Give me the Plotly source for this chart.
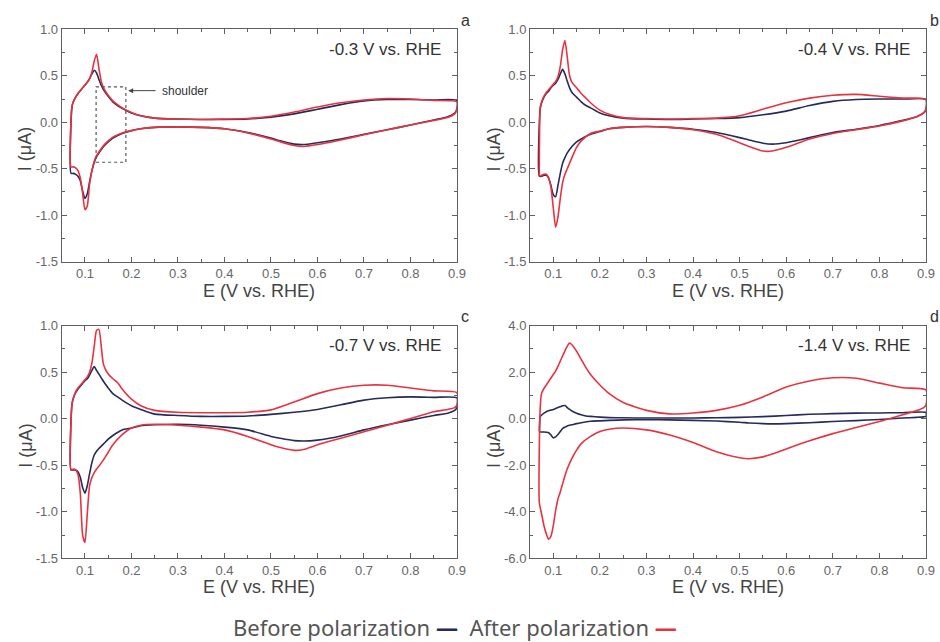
import plotly.graph_objects as go

# ---------------- data ----------------
E_fwd = [0.07, 0.072, 0.075, 0.08, 0.085, 0.09, 0.095, 0.10, 0.105, 0.11, 0.115, 0.12, 0.125, 0.13,
         0.135, 0.14, 0.15, 0.16, 0.17, 0.18, 0.20, 0.22, 0.25, 0.30, 0.35, 0.40, 0.45, 0.50, 0.55,
         0.60, 0.65, 0.70, 0.75, 0.80, 0.85, 0.90]
E_rev = [0.90, 0.895, 0.88, 0.85, 0.80, 0.75, 0.70, 0.65, 0.60, 0.57, 0.55, 0.52, 0.50, 0.45, 0.40,
         0.35, 0.30, 0.25, 0.22, 0.20, 0.18, 0.16, 0.15, 0.14, 0.13, 0.125, 0.12, 0.115, 0.11, 0.105,
         0.10, 0.095, 0.09, 0.085, 0.08, 0.075, 0.07]

# panel a (-0.3 V)
a_before_fwd = [-0.55, 0.16, 0.22, 0.27, 0.31, 0.34, 0.37, 0.40, 0.43, 0.47, 0.52, 0.56, 0.53, 0.46, 0.40,
                0.35, 0.28, 0.22, 0.18, 0.15, 0.10, 0.07, 0.045, 0.035, 0.03, 0.03, 0.035, 0.055, 0.09,
                0.14, 0.19, 0.23, 0.245, 0.245, 0.24, 0.235]
a_after_fwd = [-0.48, 0.17, 0.22, 0.27, 0.31, 0.34, 0.37, 0.40, 0.43, 0.47, 0.54, 0.66, 0.73, 0.58, 0.44,
               0.37, 0.29, 0.23, 0.19, 0.155, 0.105, 0.07, 0.045, 0.035, 0.03, 0.035, 0.04, 0.065, 0.11,
               0.165, 0.21, 0.24, 0.255, 0.25, 0.235, 0.22]
a_before_rev = [0.15, 0.10, 0.06, 0.025, -0.03, -0.08, -0.13, -0.18, -0.22, -0.24, -0.235, -0.20, -0.17,
                -0.11, -0.07, -0.055, -0.05, -0.055, -0.07, -0.09, -0.12, -0.17, -0.21, -0.26, -0.33,
                -0.37, -0.43, -0.52, -0.64, -0.77, -0.82, -0.74, -0.63, -0.58, -0.56, -0.55, -0.55]
a_after_rev = [0.14, 0.09, 0.05, 0.02, -0.03, -0.08, -0.135, -0.19, -0.24, -0.26, -0.25, -0.21, -0.18,
               -0.115, -0.07, -0.055, -0.05, -0.055, -0.07, -0.09, -0.115, -0.16, -0.20, -0.25, -0.32,
               -0.36, -0.42, -0.52, -0.66, -0.90, -0.94, -0.76, -0.60, -0.52, -0.49, -0.48, -0.48]

# panel b (-0.4 V)
b_before_fwd = [-0.58, 0.15, 0.21, 0.27, 0.31, 0.335, 0.37, 0.40, 0.42, 0.46, 0.52, 0.57, 0.52, 0.44, 0.37,
                0.32, 0.27, 0.22, 0.18, 0.155, 0.10, 0.07, 0.045, 0.035, 0.03, 0.035, 0.04, 0.05, 0.08,
                0.12, 0.18, 0.225, 0.245, 0.25, 0.25, 0.245]
b_after_fwd = [-0.57, 0.16, 0.22, 0.28, 0.32, 0.35, 0.38, 0.41, 0.44, 0.49, 0.60, 0.78, 0.88, 0.70, 0.50,
               0.43, 0.37, 0.31, 0.26, 0.21, 0.13, 0.085, 0.05, 0.04, 0.035, 0.04, 0.045, 0.07, 0.14,
               0.21, 0.26, 0.29, 0.30, 0.28, 0.26, 0.245]
b_before_rev = [0.14, 0.10, 0.06, 0.02, -0.035, -0.075, -0.11, -0.165, -0.22, -0.235, -0.225, -0.19, -0.165,
                -0.11, -0.075, -0.055, -0.045, -0.055, -0.07, -0.10, -0.13, -0.18, -0.21, -0.26, -0.33,
                -0.38, -0.44, -0.55, -0.68, -0.80, -0.78, -0.68, -0.60, -0.57, -0.57, -0.58, -0.58]
b_after_rev = [0.14, 0.10, 0.06, 0.015, -0.04, -0.08, -0.12, -0.18, -0.27, -0.31, -0.31, -0.26, -0.22,
               -0.13, -0.08, -0.055, -0.045, -0.055, -0.07, -0.095, -0.12, -0.20, -0.27, -0.38, -0.50,
               -0.56, -0.65, -0.82, -1.02, -1.13, -0.92, -0.70, -0.60, -0.56, -0.56, -0.57, -0.58]

# panel c (-0.7 V)
c_before_fwd = [-0.55, 0.15, 0.22, 0.28, 0.32, 0.35, 0.38, 0.41, 0.43, 0.47, 0.52, 0.56, 0.52, 0.48, 0.44,
                0.40, 0.33, 0.27, 0.235, 0.20, 0.14, 0.10, 0.05, 0.035, 0.025, 0.025, 0.03, 0.047, 0.07,
                0.10, 0.15, 0.20, 0.225, 0.235, 0.23, 0.225]
c_after_fwd = [-0.55, 0.15, 0.22, 0.29, 0.33, 0.36, 0.39, 0.42, 0.45, 0.50, 0.60, 0.78, 0.95, 0.96, 0.78,
               0.58, 0.48, 0.43, 0.39, 0.32, 0.21, 0.14, 0.09, 0.07, 0.065, 0.065, 0.07, 0.095, 0.18,
               0.27, 0.33, 0.36, 0.36, 0.33, 0.30, 0.28]
c_before_rev = [0.12, 0.09, 0.06, 0.035, -0.015, -0.065, -0.12, -0.185, -0.23, -0.24, -0.235, -0.21, -0.19,
                -0.12, -0.09, -0.07, -0.06, -0.065, -0.075, -0.10, -0.12, -0.18, -0.22, -0.27, -0.32,
                -0.35, -0.39, -0.47, -0.59, -0.72, -0.80, -0.74, -0.63, -0.57, -0.55, -0.55, -0.55]
c_after_rev = [0.15, 0.12, 0.10, 0.075, 0.003, -0.07, -0.14, -0.21, -0.28, -0.33, -0.34, -0.31, -0.28,
               -0.19, -0.12, -0.09, -0.07, -0.06, -0.07, -0.10, -0.17, -0.28, -0.36, -0.44, -0.51,
               -0.54, -0.58, -0.63, -0.72, -1.02, -1.33, -1.25, -0.80, -0.60, -0.55, -0.54, -0.55]

# panel d (-1.4 V)
d_before_fwd = [-0.55, 0.10, 0.16, 0.24, 0.30, 0.34, 0.37, 0.40, 0.44, 0.48, 0.52, 0.56, 0.57, 0.48, 0.40,
                0.33, 0.24, 0.17, 0.12, 0.10, 0.07, 0.05, 0.04, 0.03, 0.03, 0.035, 0.04, 0.06, 0.09,
                0.14, 0.19, 0.22, 0.24, 0.25, 0.26, 0.27]
d_after_fwd = [-3.6, 0.5, 1.1, 1.3, 1.45, 1.6, 1.75, 1.9, 2.05, 2.25, 2.48, 2.7, 2.92, 3.12, 3.25,
               3.18, 2.9, 2.55, 2.2, 1.9, 1.45, 1.08, 0.70, 0.36, 0.21, 0.25, 0.36, 0.58, 0.94,
               1.36, 1.62, 1.76, 1.74, 1.53, 1.33, 1.24]
d_before_rev = [0.10, 0.08, 0.06, 0.03, -0.03, -0.08, -0.12, -0.17, -0.21, -0.22, -0.21, -0.18, -0.15,
                -0.10, -0.07, -0.05, -0.045, -0.05, -0.07, -0.09, -0.11, -0.17, -0.21, -0.26, -0.31,
                -0.36, -0.42, -0.55, -0.68, -0.78, -0.82, -0.70, -0.60, -0.58, -0.57, -0.57, -0.56]
d_after_rev = [0.59, 0.48, 0.35, 0.17, -0.12, -0.38, -0.64, -0.95, -1.30, -1.52, -1.64, -1.72, -1.68,
               -1.42, -1.02, -0.70, -0.48, -0.40, -0.45, -0.55, -0.76, -1.07, -1.35, -1.70, -2.15,
               -2.45, -2.80, -3.15, -3.45, -3.95, -4.60, -5.05, -5.18, -4.95, -4.60, -4.10, -3.60]

POTENTIAL_LABELS = ["-0.3 V vs. RHE", "-0.4 V vs. RHE", "-0.7 V vs. RHE", "-1.4 V vs. RHE"]
PANEL_LETTERS = ["a", "b", "c", "d"]
X_TICKS = [0.1, 0.2, 0.3, 0.4, 0.5, 0.6, 0.7, 0.8, 0.9]
Y_TICKS_SMALL = [-1.5, -1.0, -0.5, 0.0, 0.5, 1.0]
Y_TICKS_D = [-6.0, -4.0, -2.0, 0.0, 2.0, 4.0]
SERIES_NAMES = ["Before polarization", "After polarization"]

# ---------------- styling ----------------
W, H = 940, 642
BLUE = "#252b5a"
RED = "#e8333f"
AX = "#606060"
FONT = "Arial, Liberation Sans, sans-serif"

# panel pixel boxes: (left, top, right, bottom)
boxes = [(61.7, 29.3, 457, 261.7), (530, 29.3, 926, 261.7),
         (61.7, 325.7, 457, 558.3), (530, 325.7, 926, 558.3)]


def px(x):
    return x / W


def py(y):
    return 1 - y / H


panels = [
    (a_before_fwd, a_before_rev, a_after_fwd, a_after_rev, Y_TICKS_SMALL, 0.5, 0.25),
    (b_before_fwd, b_before_rev, b_after_fwd, b_after_rev, Y_TICKS_SMALL, 0.5, 0.25),
    (c_before_fwd, c_before_rev, c_after_fwd, c_after_rev, Y_TICKS_SMALL, 0.5, 0.25),
    (d_before_fwd, d_before_rev, d_after_fwd, d_after_rev, Y_TICKS_D, 2.0, 1.0),
]

fig = go.Figure()
annotations = []
layout = {}

for i, (bf, br, af, ar, yt, ydt, yminor) in enumerate(panels):
    n = "" if i == 0 else str(i + 1)
    xa, ya = "x" + n, "y" + n
    L, T, R, B = boxes[i]
    for vals_f, vals_r, col, name in ((bf, br, BLUE, SERIES_NAMES[0]), (af, ar, RED, SERIES_NAMES[1])):
        fig.add_trace(go.Scatter(
            x=E_fwd + E_rev, y=vals_f + vals_r, mode="lines", name=name, showlegend=False,
            line=dict(color=col, width=1.6, shape="spline", smoothing=0.6),
            xaxis=xa, yaxis=ya))
    common = dict(showline=True, linecolor=AX, linewidth=1, mirror="allticks", ticks="inside",
                  ticklen=5, tickwidth=1, tickcolor=AX, showgrid=False, zeroline=False,
                  tickfont=dict(family=FONT, size=13, color="#666"), automargin=False)
    layout["xaxis" + n] = dict(
        common, domain=[px(L), px(R)], anchor=ya, range=[0.05, 0.9], tickmode="array",
        tickvals=X_TICKS, ticktext=[f"{v:.1f}" for v in X_TICKS],
        minor=dict(tickmode="linear", tick0=0.05, dtick=0.05, ticks="inside", ticklen=3,
                   tickcolor=AX))
    layout["yaxis" + n] = dict(
        common, domain=[py(B), py(T)], anchor=xa, range=[yt[0], yt[-1]], tickmode="array",
        tickvals=yt, ticktext=[f"{v:.1f}" for v in yt],
        minor=dict(tickmode="linear", tick0=yt[0], dtick=yminor, ticks="inside", ticklen=3,
                   tickcolor=AX))
    # potential label
    annotations.append(dict(xref=xa + " domain", yref=ya + " domain", x=1 - 14 / (R - L),
                            y=1 - 20 / (B - T), xanchor="right", yanchor="middle",
                            text=POTENTIAL_LABELS[i], showarrow=False,
                            font=dict(family=FONT, size=17, color="#333")))
    # panel letter
    annotations.append(dict(xref="paper", yref="paper", x=px(R + 8), y=py(T - 9),
                            xanchor="center", yanchor="middle", text=PANEL_LETTERS[i],
                            showarrow=False, font=dict(family=FONT, size=16, color="#333")))
    # axis titles
    annotations.append(dict(xref="paper", yref="paper", x=px((L + R) / 2), y=py(B + 29),
                            xanchor="center", yanchor="middle", text="E (V vs. RHE)",
                            showarrow=False, font=dict(family=FONT, size=18, color="#444")))
    annotations.append(dict(xref="paper", yref="paper", x=px(L - 36), y=py((T + B) / 2 + 4),
                            xanchor="center", yanchor="middle", text="I (μA)", textangle=-90,
                            showarrow=False, font=dict(family=FONT, size=18, color="#444")))

# shoulder marker in panel a
fig.add_shape(type="rect", xref="x", yref="y", x0=0.124, x1=0.188, y0=-0.43, y1=0.38,
              line=dict(color="#555", width=1.2, dash="dot"))
annotations.append(dict(xref="x", yref="y", axref="x", ayref="y", x=0.193, y=0.34, ax=0.255, ay=0.34,
                        text="", showarrow=True, arrowhead=2, arrowsize=1, arrowwidth=1,
                        arrowcolor="#444"))
annotations.append(dict(xref="x", yref="y", x=0.262, y=0.34, xanchor="left", yanchor="middle",
                        text="shoulder", showarrow=False,
                        font=dict(family=FONT, size=12, color="#333")))

# legend line at the bottom
annotations.append(dict(
    xref="paper", yref="paper", x=px(455), y=py(627), xanchor="center", yanchor="middle",
    showarrow=False,
    text=(f"{SERIES_NAMES[0]} <span style='color:{BLUE}'><b>—</b></span>&nbsp;&nbsp;"
          f"{SERIES_NAMES[1]} <span style='color:{RED}'><b>—</b></span>"),
    font=dict(family="Noto Sans, sans-serif", size=22, color="#555")))

fig.update_layout(
    width=W, height=H, margin=dict(l=0, r=0, t=0, b=0),
    paper_bgcolor="white", plot_bgcolor="white", showlegend=False,
    annotations=annotations, **layout)

fig.write_html("out.html")
